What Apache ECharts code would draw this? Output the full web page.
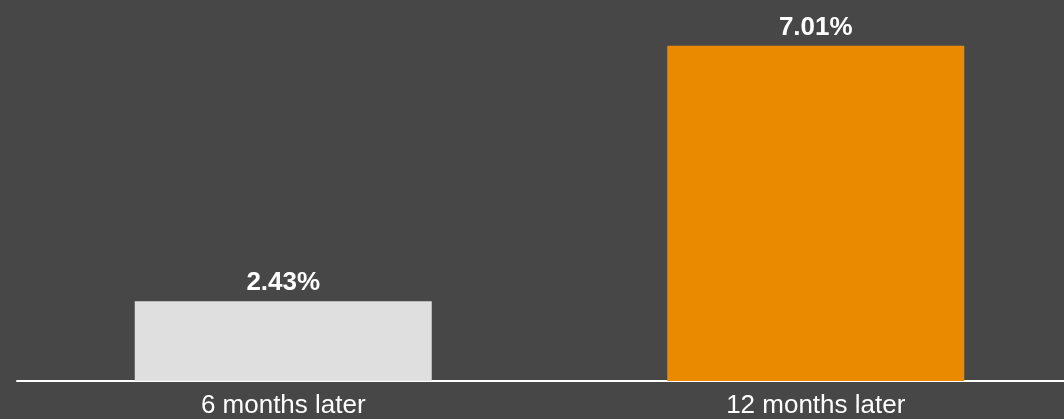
<!DOCTYPE html>
<html>
<head>
<meta charset="utf-8">
<script src="https://cdn.jsdelivr.net/npm/echarts@6/dist/echarts.min.js"></script>
<style>
html,body{margin:0;padding:0;background:#474747;overflow:hidden;width:1064px;height:419px;}
#c{width:1082px;height:419px;}
</style>
</head>
<body>
<div id="c"></div>
<script>
const categories = ['6 months later', '12 months later'];
const values = [2.43, 7.01];
const barColors = ['#dfdfdf', '#ea8a00'];

const chart = echarts.init(document.getElementById('c'), null, {renderer: 'canvas'});
chart.setOption({
  backgroundColor: '#474747',
  animation: false,
  grid: {left: 17, right: 0, top: 0, bottom: 38, containLabel: false, outerBoundsMode: 'none'},
  xAxis: {
    type: 'category',
    data: categories,
    axisLine: {show: true, lineStyle: {color: '#ffffff', width: 2}},
    axisTick: {show: false},
    axisLabel: {color: '#ffffff', fontSize: 26, fontFamily: 'Liberation Sans, Arial, sans-serif', margin: 12}
  },
  yAxis: {
    type: 'value', min: 1, max: 7.83,
    show: false,
    splitLine: {show: false}
  },
  series: [{
    type: 'bar',
    barWidth: 297,
    data: values.map((v, i) => ({value: v, itemStyle: {color: barColors[i]}})),
    label: {
      show: true, position: 'top', distance: 5,
      color: '#ffffff', fontSize: 26, fontWeight: 'bold',
      fontFamily: 'Liberation Sans, Arial, sans-serif',
      formatter: p => p.value.toFixed(2) + '%'
    }
  }]
});
</script>
</body>
</html>
